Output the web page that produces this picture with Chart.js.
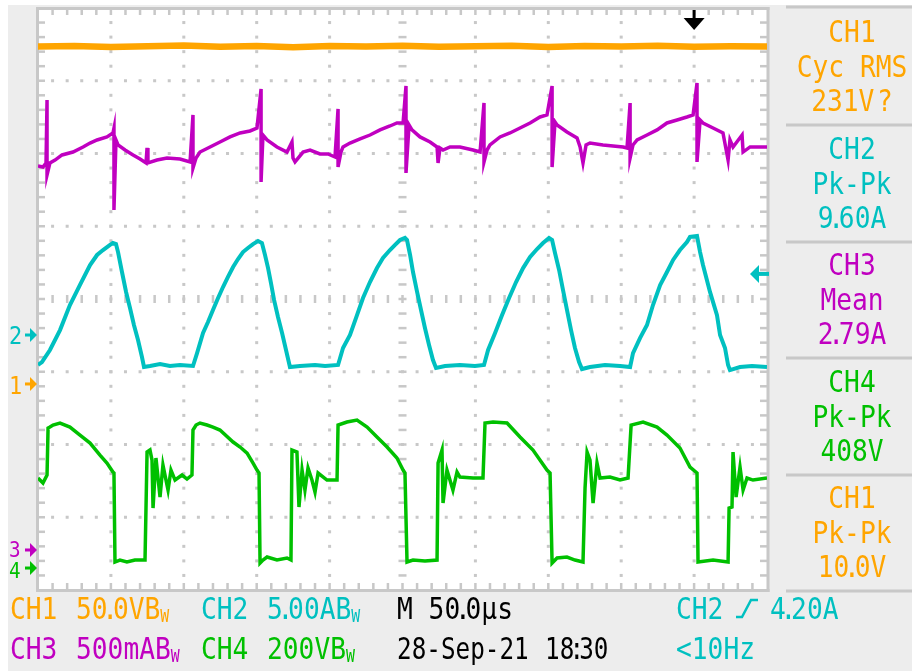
<!DOCTYPE html>
<html>
<head>
<meta charset="utf-8">
<script src="https://cdn.jsdelivr.net/npm/chart.js@4/dist/chart.umd.min.js"></script>
<style>
  html, body { margin: 0; padding: 0; background: #ffffff; }
  #stage { position: relative; width: 912px; height: 671px; overflow: hidden; }
  #scope { position: absolute; left: 0; top: 0; }
  .lbl { position: absolute; white-space: nowrap; line-height: 1;
         font-family: "DejaVu Sans Mono", "Liberation Mono", monospace; font-size: 30px; }
  .bl { display: inline-block; width: 0; height: 0; }
  .n  { margin: 0 -6px; }
  .ns { margin-right: -15px; }
  .bw { font-size: 17px; position: relative; top: 3px; }
</style>
</head>
<body>
<div id="stage"><canvas id="scope" width="912" height="671"></canvas></div>
<script>
// ---- acquisition: time in microseconds (50 us/div, 10 div), values in channel units ----
// CH1 voltage (V)
const ch1Trace = [
  [0,232.0],[25,232.3],[50,231.6],[75,232.1],[100,232.6],[125,231.8],[150,232.2],[175,231.5],
  [200,232.3],[225,231.9],[250,232.5],[275,231.7],[300,232.1],[325,232.4],[350,231.6],[375,232.2],
  [400,231.9],[425,232.5],[450,231.8],[475,232.1],[500,232.0]
];
// CH2 current (A)
const ch2Trace = [
  [0,-2.06],[2.7,-1.86],[8.2,-1.03],[15.1,0.34],[21.9,2.06],[28.8,3.44],[35.7,4.81],[40.5,5.50],[44.6,5.84],[49.4,6.19],
  [51.4,6.32],[53.5,6.25],[54.9,5.70],[57.6,4.33],[60.4,2.96],[63.1,1.86],[65.8,0.69],[68.6,-0.34],[71.3,-1.51],[72.7,-2.20],
  [76.8,-2.13],[83.7,-1.99],[90.5,-2.13],[97.4,-2.06],[106.3,-2.13],
  [109.1,-1.24],[113.2,0.14],[116.6,0.89],[120.0,1.72],[123.5,2.54],[126.9,3.30],[130.3,3.99],[133.8,4.67],[137.2,5.22],
  [140.6,5.70],[144.0,5.98],[147.5,6.25],[150.9,6.46],[153.6,6.32],
  [155.7,5.50],[157.8,4.60],[159.8,3.57],[161.9,2.41],[164.6,1.24],[167.4,0.14],[170.1,-1.03],[172.8,-2.20],
  [179.7,-2.13],[190.0,-2.06],[196.9,-2.13],[205.8,-2.06],
  [209.2,-0.89],[214.0,0.00],[218.8,1.37],[222.9,2.54],[227.7,3.64],[232.5,4.60],[236.6,5.29],[241.4,5.84],[244.9,6.19],
  [248.3,6.53],[251.7,6.67],[253.1,6.53],
  [255.2,5.50],[257.2,4.33],[260.0,2.96],[262.7,1.72],[265.4,0.48],[268.2,-0.69],[270.9,-1.72],[273.0,-2.27],
  [279.2,-2.13],[289.4,-2.06],[299.7,-2.13],[305.9,-2.06],
  [308.7,-1.03],[313.5,0.14],[318.3,1.37],[323.1,2.54],[327.9,3.64],[332.7,4.60],[337.5,5.36],[342.3,5.91],[346.4,6.32],
  [350.5,6.67],[352.6,6.53],
  [354.6,5.64],[357.4,4.47],[360.1,3.09],[362.8,1.72],[365.6,0.34],[368.3,-0.89],[371.1,-1.86],[373.1,-2.34],
  [378.6,-2.20],[388.9,-2.06],[399.2,-2.13],[406.1,-2.20],
  [408.1,-1.24],[412.9,-0.21],[417.7,0.69],[421.8,2.06],[426.7,3.44],[431.4,4.33],[435.6,5.16],[440.3,5.84],[445.1,6.39],
  [447.2,6.74],[452.0,6.80],
  [454.1,5.70],[456.1,4.81],[460.9,2.96],[465.7,1.37],[467.8,0.00],[471.2,-0.89],[473.3,-2.06],[474.6,-2.41],
  [481.5,-2.20],[489.7,-2.13],[500,-2.20]
];
// CH3 current (A)
const ch3Trace = [
  [0,2.639],[3.4,2.632],[5.5,2.660],[6.2,3.093],[6.2,2.577],[8.2,2.660],[11.7,2.680],[16.5,2.715],[24.0,2.735],[30.9,2.770],
  [35.7,2.797],[40.5,2.818],[47.3,2.839],[51.4,2.866],[52.1,2.900],[52.1,2.337],[53.5,2.818],[54.9,2.784],[59.7,2.749],
  [65.2,2.715],[70.0,2.687],[74.1,2.660],[74.8,2.763],[75.4,2.660],[81.6,2.680],[88.5,2.694],[97.4,2.687],[104.3,2.667],
  [106.3,2.990],[106.3,2.625],[108.4,2.694],[111.1,2.735],[118.0,2.770],[124.8,2.804],[131.7,2.839],[138.6,2.866],
  [145.4,2.880],[150.2,2.900],[153.0,3.168],[153.0,2.529],[154.3,2.852],[157.1,2.818],[163.9,2.770],[170.8,2.735],
  [174.2,2.804],[174.9,2.694],[176.3,2.667],[181.8,2.735],[186.6,2.749],[193.4,2.722],[198.9,2.722],[203.7,2.701],
  [205.8,3.031],[205.8,2.632],[207.8,2.735],[209.2,2.770],[214.0,2.797],[220.9,2.825],[227.7,2.852],[234.6,2.887],
  [241.4,2.914],[246.2,2.935],[250.4,2.935],[252.4,3.189],[252.4,2.591],[254.5,2.921],[256.5,2.887],[262.0,2.839],
  [268.9,2.804],[273.7,2.770],[274.4,2.660],[275.7,2.763],[277.8,2.749],[282.6,2.770],[289.4,2.770],[298.4,2.749],
  [303.2,2.735],[305.9,3.072],[305.9,2.667],[308.0,2.749],[310.0,2.784],[316.9,2.839],[323.7,2.866],[330.6,2.900],
  [337.5,2.935],[344.3,2.976],[349.1,2.990],[352.6,3.189],[352.6,2.632],[354.6,2.942],[356.0,2.921],[362.8,2.873],
  [369.7,2.832],[371.8,2.770],[373.8,2.660],[375.9,2.784],[378.6,2.797],[387.5,2.784],[401.3,2.770],[404.0,2.763],
  [406.1,3.072],[406.1,2.694],[408.1,2.784],[410.9,2.818],[417.7,2.852],[424.6,2.887],[431.4,2.935],[438.3,2.955],
  [445.1,2.976],[449.3,2.990],[452.0,3.210],[452.0,2.667],[454.1,2.955],[456.1,2.935],[463.0,2.900],[469.8,2.866],
  [473.3,2.680],[474.6,2.818],[476.7,2.770],[482.9,2.852],[483.6,2.735],[488.4,2.770],[500,2.770]
];
// CH4 voltage (V)
const ch4Trace = [
  [0,247.4],[3.4,233.7],[6.2,255.7],[6.9,384.9],[8.2,387.6],[10.3,393.1],[15.1,398.6],[21.9,387.6],[28.8,365.6],
  [35.7,343.6],[42.5,310.6],[47.3,288.6],[51.4,263.9],[52.1,261.2],[52.8,16.5],[56.2,22.0],[61.0,16.5],[66.5,22.0],
  [72.0,22.0],[73.4,22.0],[74.8,318.9],[76.8,324.4],[78.2,296.9],[78.9,164.9],[80.9,302.4],[83.7,195.2],[85.7,283.1],
  [89.2,214.4],[91.2,269.4],[94.0,241.9],[98.8,255.7],[102.2,244.7],[105.6,255.7],[106.3,379.4],[108.4,393.1],
  [111.1,398.6],[115.9,393.1],[120.0,387.6],[124.8,379.4],[133.8,346.4],[138.6,332.6],[143.4,316.1],[147.5,288.6],
  [150.2,269.4],[151.6,261.2],[152.3,13.7],[154.3,22.0],[157.1,30.2],[163.9,22.0],[170.8,27.5],[173.5,22.0],
  [174.2,324.4],[177.6,318.9],[179.0,167.7],[181.1,269.4],[183.1,214.4],[185.2,274.9],[187.9,241.9],[190.0,208.9],
  [192.1,261.2],[198.2,241.9],[205.1,241.9],[205.8,393.1],[211.9,401.4],[218.8,406.9],[225.7,387.6],[232.5,360.1],
  [239.4,332.6],[246.2,302.4],[250.4,269.4],[251.7,261.2],[253.1,16.5],[257.2,22.0],[265.4,19.2],[273.7,22.0],
  [274.4,288.6],[277.1,324.4],[277.8,178.7],[280.5,269.4],[284.6,214.4],[287.4,263.9],[289.4,250.2],[298.4,247.4],
  [305.2,247.4],[306.6,398.6],[312.1,401.4],[321.7,398.6],[330.6,360.1],[339.5,324.4],[349.1,269.4],[351.2,261.2],
  [352.6,13.7],[356.0,27.5],[362.8,30.2],[368.3,22.0],[373.8,16.5],[375.2,219.9],[376.6,318.9],[378.6,296.9],
  [380.7,178.7],[383.4,288.6],[385.5,247.4],[392.3,250.2],[399.2,241.9],[404.7,247.4],[406.8,393.1],[415.0,401.4],
  [424.6,387.6],[431.4,365.6],[440.3,329.9],[447.2,277.6],[452.0,261.2],[452.7,16.5],[463.0,22.0],[473.3,16.5],
  [474.0,164.9],[476.0,167.7],[476.7,318.9],[478.8,195.2],[481.5,277.6],[483.6,214.4],[486.3,247.4],[490.4,241.9],
  [500,247.4]
];

// vertical setup: units per division and ground level (divisions from screen centre)
const voltsPerDiv   = { ch1: 50, ch2: 5, ch3: 0.5, ch4: 200 };
const groundDiv     = { ch1: -1.168, ch2: -0.495, ch3: -3.450, ch4: -3.698 };
const triggerTimeUs = 450;   // trigger point on the time axis
const triggerLevelA = 4.20;  // CH2 trigger level

// readout texts
const readoutSource = ['CH1', 'CH2', 'CH3', 'CH4', 'CH1'];
const readoutKind   = ['Cyc RMS', 'Pk-Pk', 'Mean', 'Pk-Pk', 'Pk-Pk'];
const readoutValue  = ['231V ?', '9.60A', '2.79A', '408V', '10.0V'];
const readoutChan   = ['ch1', 'ch2', 'ch3', 'ch4', 'ch1'];
const scaleLabels   = ['50.0VBw', '5.00ABw', '500mABw', '200VBw'];
const timebaseLabel = 'M 50.0µs';
const dateLabel     = '28-Sep-21';
const timeLabel     = '18:30';
const triggerLabel  = '4.20A';
const freqLabel     = '<10Hz';

const COLORS = { ch1: '#ffa500', ch2: '#00c0c0', ch3: '#c000c0', ch4: '#00c000' };
const GRID = '#c8c8c8';

function toDivs(trace, ch) {
  return trace.map(([t, v]) => ({ x: t, y: v / voltsPerDiv[ch] + groundDiv[ch] }));
}

function channelArrow(c, tipX, y, color) {
  c.fillStyle = color;
  c.fillRect(tipX - 12, y - 1.5, 6, 3);
  c.beginPath();
  c.moveTo(tipX - 7, y - 7);
  c.lineTo(tipX, y);
  c.lineTo(tipX - 7, y + 7);
  c.closePath();
  c.fill();
}

const scopeScreen = {
  id: 'scopeScreen',
  beforeDraw(chart) {
    const c = chart.ctx, a = chart.chartArea;
    c.save();
    c.fillStyle = '#ffffff';
    c.fillRect(0, 0, chart.width, chart.height);
    c.fillStyle = '#ededed';
    c.fillRect(8, 5, chart.width - 8, chart.height - 5);
    c.fillStyle = '#ffffff';
    c.fillRect(a.left, a.top, a.right - a.left, a.bottom - a.top);
    // readout panel separators
    c.fillStyle = GRID;
    [7, 125, 242, 358, 475, 591].forEach(y => c.fillRect(786, y - 1.5, 126, 3));
    c.restore();
  },
  beforeDatasetsDraw(chart) {
    const c = chart.ctx, a = chart.chartArea;
    const xs = chart.scales.x, ys = chart.scales.y;
    c.save();
    c.fillStyle = GRID;
    const subX = [], subY = [];
    for (let k = 1; k < 50; k++) subX.push(xs.getPixelForValue(k * 10));
    for (let k = 1; k < 40; k++) subY.push(ys.getPixelForValue(-4 + k * 0.2));
    // dotted graticule
    for (let d = 1; d < 10; d++) {
      if (d === 5) continue;
      const px = xs.getPixelForValue(d * 50);
      subY.forEach(py => c.fillRect(px - 1.5, py - 1.5, 3, 3));
    }
    for (let d = -3; d <= 3; d++) {
      if (d === 0) continue;
      const py = ys.getPixelForValue(d);
      subX.forEach(px => c.fillRect(px - 1.5, py - 1.5, 3, 3));
    }
    // centre axes with minor marks
    const cx = xs.getPixelForValue(250), cy = ys.getPixelForValue(0);
    subY.forEach(py => c.fillRect(cx - 4, py - 1.25, 8, 2.5));
    subX.forEach(px => c.fillRect(px - 1.25, cy - 4, 2.5, 8));
    // edge ticks
    subY.forEach(py => {
      c.fillRect(a.left, py - 1.25, 7, 2.5);
      c.fillRect(a.right - 7, py - 1.25, 7, 2.5);
    });
    subX.forEach(px => {
      c.fillRect(px - 1.25, a.top, 2.5, 7);
      c.fillRect(px - 1.25, a.bottom - 7, 2.5, 7);
    });
    // frame
    c.fillRect(a.left - 2, a.top - 1, 3, a.bottom - a.top + 3);
    c.fillRect(a.right - 0.5, a.top - 1, 3, a.bottom - a.top + 3);
    c.fillRect(a.left - 2, a.top - 1, a.right - a.left + 4.5, 3);
    c.fillRect(a.left - 2, a.bottom - 1, a.right - a.left + 4.5, 3);
    c.restore();
  },
  afterDraw(chart) {
    const c = chart.ctx, a = chart.chartArea;
    const xs = chart.scales.x, ys = chart.scales.y;
    c.save();
    // ground level markers
    ['ch2', 'ch1', 'ch3', 'ch4'].forEach(ch => {
      channelArrow(c, a.left - 1, ys.getPixelForValue(groundDiv[ch]), COLORS[ch]);
    });
    // trigger position (top)
    const tx = xs.getPixelForValue(triggerTimeUs);
    c.fillStyle = '#000000';
    c.fillRect(tx - 1.5, a.top + 2, 3, 9);
    c.beginPath();
    c.moveTo(tx - 10.5, a.top + 10);
    c.lineTo(tx + 10.5, a.top + 10);
    c.lineTo(tx, a.top + 22);
    c.closePath();
    c.fill();
    // trigger level (right)
    const ty = ys.getPixelForValue(triggerLevelA / voltsPerDiv.ch2 + groundDiv.ch2);
    c.fillStyle = COLORS.ch2;
    c.fillRect(a.right - 8, ty - 2, 10, 4);
    c.beginPath();
    c.moveTo(a.right - 17, ty);
    c.lineTo(a.right - 8, ty - 9);
    c.lineTo(a.right - 8, ty + 9);
    c.closePath();
    c.fill();
    // rising-edge trigger symbol in the status line
    c.strokeStyle = COLORS.ch2;
    c.lineWidth = 2.5;
    c.beginPath();
    c.moveTo(736, 617);
    c.lineTo(742, 617);
    c.lineTo(751, 600);
    c.lineTo(758, 600);
    c.stroke();
    c.restore();
  }
};

function trace(ch, data, width) {
  return {
    data: toDivs(data, ch),
    borderColor: COLORS[ch],
    borderWidth: width,
    pointRadius: 0,
    tension: 0,
    fill: false,
    borderJoinStyle: 'miter',
    borderCapStyle: 'butt'
  };
}

new Chart(document.getElementById('scope'), {
  type: 'line',
  data: {
    datasets: [
      trace('ch1', ch1Trace, 6.5),
      trace('ch3', ch3Trace, 3.5),
      trace('ch2', ch2Trace, 4),
      trace('ch4', ch4Trace, 3.5)
    ]
  },
  options: {
    responsive: false,
    animation: false,
    devicePixelRatio: 1,
    layout: { padding: { left: 38, right: 145, top: 8, bottom: 81 } },
    scales: {
      x: { type: 'linear', min: 0, max: 500, display: false },
      y: { type: 'linear', min: -4, max: 4, display: false }
    },
    plugins: { legend: { display: false }, tooltip: { enabled: false } }
  },
  plugins: [scopeScreen]
});

// ---- text readouts ----
const stage = document.getElementById('stage');
function fmt(s) {
  let h = s.replace(/&/g, '&amp;').replace(/</g, '&lt;');
  h = h.replace(/[.:]/g, m => '<span class="n">' + m + '</span>');
  h = h.replace(/Bw$/, 'B<span class="bw">W</span>');
  h = h.replace(/V \?/, 'V<span class="ns"> </span>?');
  return h;
}
function label(text, x, baseline, color, opt = {}) {
  const d = document.createElement('div');
  d.className = 'lbl';
  d.style.color = color;
  if (opt.size) d.style.fontSize = opt.size + 'px';
  d.innerHTML = fmt(text) + '<span class="bl"></span>';
  stage.appendChild(d);
  const b = d.querySelector('.bl').offsetTop;
  const sx = opt.sx || 0.875;
  d.style.left = x + 'px';
  d.style.top = (baseline - b) + 'px';
  if (opt.center) {
    d.style.transformOrigin = 'center';
    d.style.transform = 'translateX(-50%) scaleX(' + sx + ')';
  } else {
    d.style.transformOrigin = 'left';
    d.style.transform = 'scaleX(' + sx + ')';
  }
}

// measurement panel
readoutSource.forEach((src, i) => {
  const base = 42 + i * 116.5;
  const col = COLORS[readoutChan[i]];
  label(src, 852, base, col, { center: true });
  label(readoutKind[i], 852, base + 35, col, { center: true });
  label(readoutValue[i], 852, base + 69, col, { center: true });
});

// ground level digits
label('2', 9, 344, COLORS.ch2, { size: 25 });
label('1', 9, 394, COLORS.ch1, { size: 25 });
label('3', 9, 557, COLORS.ch3, { size: 22 });
label('4', 9, 578, COLORS.ch4, { size: 22 });

// status lines
const row1 = 619, row2 = 659;
label('CH1', 10, row1, COLORS.ch1);
label(scaleLabels[0], 76, row1, COLORS.ch1);
label('CH2', 201, row1, COLORS.ch2);
label(scaleLabels[1], 267, row1, COLORS.ch2);
label(timebaseLabel, 397, row1, '#000000');
label('CH2', 676, row1, COLORS.ch2);
label(triggerLabel, 770, row1, COLORS.ch2);
label('CH3', 10, row2, COLORS.ch3);
label(scaleLabels[2], 76, row2, COLORS.ch3);
label('CH4', 201, row2, COLORS.ch4);
label(scaleLabels[3], 267, row2, COLORS.ch4);
label(dateLabel, 397, row2, '#000000', { sx: 0.81 });
label(timeLabel, 545, row2, '#000000', { sx: 0.81 });
label(freqLabel, 676, row2, COLORS.ch2);
</script>
</body>
</html>
